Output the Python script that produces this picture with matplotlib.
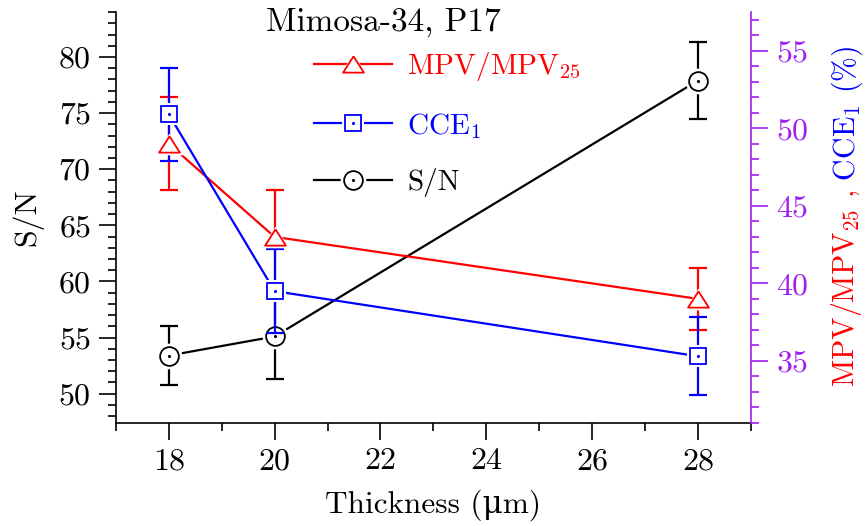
import numpy as np
import matplotlib.pyplot as plt
from matplotlib.ticker import MultipleLocator

plt.rcParams['font.family'] = ['cmr10', 'DejaVu Serif']
plt.rcParams['mathtext.fontset'] = 'cm'
plt.rcParams['axes.formatter.use_mathtext'] = True

thickness = [18, 20, 28]
sn = [53.4, 55.1, 77.9]
sn_err = [2.6, 3.8, 3.4]
mpv = [49.0, 43.0, 39.0]          # MPV/MPV25, right axis
mpv_err = [3.0, 3.0, 2.0]
cce = [50.9, 39.5, 35.3]          # CCE1 (%), right axis
cce_err = [3.0, 2.7, 2.5]

purple = '#A020F0'
fs = 23

# flattened open triangle
tri = [(0, 0.78), (-1, -0.78), (1, -0.78), (0, 0.78)]

fig = plt.figure(figsize=(8.65, 5.26), dpi=100)
ax = fig.add_axes([0.134, 0.196, 0.734, 0.781])
ax2 = ax.twinx()


def series(a, x, y, yerr, color, marker, ms, dot, label):
    a.errorbar(x, y, yerr=yerr, fmt='none', ecolor=color, elinewidth=1.6,
               capsize=6.5, capthick=1.6, zorder=2)
    line, = a.plot(x, y, '-', color=color, lw=1.6, zorder=2)
    # white halo so the line stops short of the marker
    halo, = a.plot(x, y, ls='none', marker=marker, ms=ms + 5, mfc='white',
                   mec='white', mew=0, zorder=3)
    mk, = a.plot(x, y, ls='none', marker=marker, ms=ms, mfc='white',
                 mec=color, mew=1.3, zorder=4)
    handles = [line, halo, mk]
    if dot:
        d, = a.plot(x, y, ls='none', marker='.', ms=2.5, color=color, zorder=5)
        handles.append(d)
    return tuple(handles), label


h_sn = series(ax, thickness, sn, sn_err, 'black', 'o', 13.5, True, 'S/N')
h_mpv = series(ax2, thickness, mpv, mpv_err, 'red', tri, 15, False,
               r'MPV/MPV$_{25}$')
h_cce = series(ax2, thickness, cce, cce_err, 'blue', 's', 11, True,
               r'CCE$_{1}$')

ax.set_xlim(17, 29)
ax.set_ylim(47.4, 84.0)
ax2.set_ylim(31.0, 57.5)

ax.xaxis.set_major_locator(MultipleLocator(2))
ax.xaxis.set_minor_locator(MultipleLocator(1))
ax.yaxis.set_major_locator(MultipleLocator(5))
ax.yaxis.set_minor_locator(MultipleLocator(1))
ax2.yaxis.set_major_locator(MultipleLocator(5))
ax2.yaxis.set_minor_locator(MultipleLocator(1))

for a in (ax, ax2):
    a.spines['top'].set_visible(False)
ax.spines['right'].set_visible(False)
ax2.spines['left'].set_visible(False)
ax2.spines['bottom'].set_visible(False)
ax2.spines['right'].set_color(purple)
for sp in ('left', 'bottom'):
    ax.spines[sp].set_linewidth(1.2)
ax2.spines['right'].set_linewidth(1.2)

ax.tick_params(which='major', length=12, width=1.2, labelsize=fs, pad=6)
ax.tick_params(which='minor', length=6, width=1.2)
ax2.tick_params(which='major', length=12, width=1.2, labelsize=fs, pad=6,
                colors=purple)
ax2.tick_params(which='minor', length=6, width=1.2, colors=purple)

ax.set_xlabel('Thickness (\u03bcm)', fontsize=22.5, labelpad=10)
ax.set_ylabel('S/N', fontsize=fs, labelpad=11)

# two-coloured right axis label: red part, blue part stacked above it
red_lbl = fig.text(0.999, 0.264, r'MPV/MPV$_{25}$ ,', rotation=90,
                   color='red', fontsize=21.5, ha='right', va='bottom')
ax2.annotate(' CCE$_{1}$ (%)', xy=(0.0, 1.0), xycoords=red_lbl,
             rotation=90, color='blue', fontsize=21.5, ha='left', va='bottom')

ax.text(0.422, 1.012, 'Mimosa-34, P17', transform=ax.transAxes, fontsize=24,
        ha='center', va='top')

handles = [h_mpv[0], h_cce[0], h_sn[0]]
labels = [h_mpv[1], h_cce[1], h_sn[1]]
leg = ax2.legend(handles, labels, loc='upper left', bbox_to_anchor=(0.27, 0.972),
                 frameon=False, fontsize=21, handlelength=2.7,
                 labelspacing=0.95, handletextpad=0.5)
for t, c in zip(leg.get_texts(), ['red', 'blue', 'black']):
    t.set_color(c)

fig.savefig('out.png', dpi=100)
